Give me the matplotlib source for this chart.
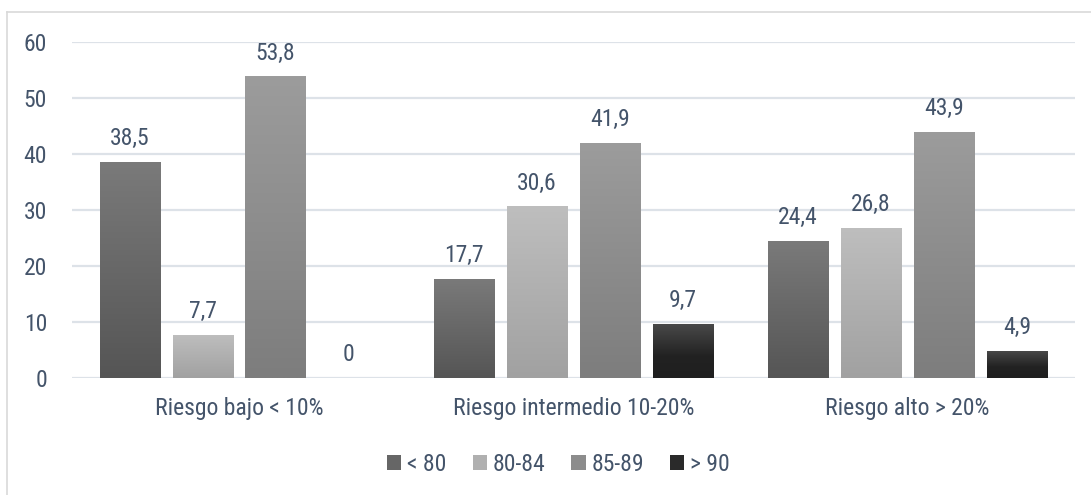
import numpy as np
import matplotlib.pyplot as plt
from matplotlib.colors import LinearSegmentedColormap
from matplotlib.patches import Patch
from matplotlib.lines import Line2D

categories = ['Riesgo bajo < 10%', 'Riesgo intermedio 10-20%', 'Riesgo alto > 20%']
series = ['< 80', '80-84', '85-89', '> 90']
values = [
    [38.5, 17.7, 24.4],   # < 80
    [7.7, 30.6, 26.8],    # 80-84
    [53.8, 41.9, 43.9],   # 85-89
    [0, 9.7, 4.9],        # > 90
]
labels = [['38,5', '17,7', '24,4'],
          ['7,7', '30,6', '26,8'],
          ['53,8', '41,9', '43,9'],
          ['0', '9,7', '4,9']]

# top -> bottom shading for each series
shades = [
    [(0.0, '#7a7a7a'), (1.0, '#555555')],
    [(0.0, '#bebebe'), (1.0, '#a1a1a1')],
    [(0.0, '#9c9c9c'), (1.0, '#7d7d7d')],
    [(0.0, '#4a4a4a'), (0.6, '#222222'), (1.0, '#1f1f1f')],
]
legend_cols = ['#666666', '#b0b0b0', '#8c8c8c', '#2a2a2a']

txt = '#44546a'
fs = 17
plt.rcParams['font.family'] = ['Roboto Condensed', 'PT Sans Narrow', 'Liberation Sans', 'DejaVu Sans']

fig = plt.figure(figsize=(10.91, 4.95), dpi=100)
ax = fig.add_axes([0.066, 0.2364, 0.919, 0.6794])

x = np.arange(len(categories))
w = 0.18
step = 0.218

for i, name in enumerate(series):
    cmap = LinearSegmentedColormap.from_list(name, shades[i])
    xs = x + (i - 1.5) * step
    bars = ax.bar(xs, values[i], width=w, color='none', edgecolor='none', zorder=3)
    for b, v, lab in zip(bars, values[i], labels[i]):
        if v > 0:
            x0, y0 = b.get_x(), b.get_y()
            grad = np.linspace(0, 1, 256).reshape(-1, 1)
            im = ax.imshow(grad, cmap=cmap, aspect='auto', origin='upper',
                           extent=[x0, x0 + w, y0, y0 + v], zorder=3)
            im.set_clip_path(b)
        ax.text(b.get_x() + w / 2, v + 3.0, lab, ha='center', va='baseline',
                fontsize=fs, color=txt)

ax.set_xlim(-0.5, 2.5)
ax.set_ylim(0, 60)
ax.set_yticks(range(0, 61, 10))
ax.set_xticks(x)
ax.set_xticklabels(categories)
ax.tick_params(axis='y', length=0, pad=18, labelsize=fs, labelcolor=txt)
ax.tick_params(axis='x', length=0, pad=14, labelsize=fs, labelcolor=txt)
ax.grid(axis='y', color='#dde2e8', linewidth=1.6, zorder=0)
ax.set_axisbelow(True)
for s in ax.spines.values():
    s.set_visible(False)

handles = [Patch(facecolor=c, edgecolor='none') for c in legend_cols]
fig.legend(handles, series, loc='center', bbox_to_anchor=(0.512, 0.062), ncol=4,
           frameon=False, fontsize=fs, labelcolor=txt, handlelength=0.6,
           handleheight=0.6, handletextpad=0.25, columnspacing=1.1)

# outer chart frame (top and left edges visible)
fig.add_artist(Line2D([7 / 1091, 1.0], [1 - 12 / 495, 1 - 12 / 495],
                      color='#d9d9d9', linewidth=1.2, transform=fig.transFigure))
fig.add_artist(Line2D([7 / 1091, 7 / 1091], [0, 1 - 12 / 495],
                      color='#d9d9d9', linewidth=1.2, transform=fig.transFigure))

fig.savefig('out.png', dpi=100)
